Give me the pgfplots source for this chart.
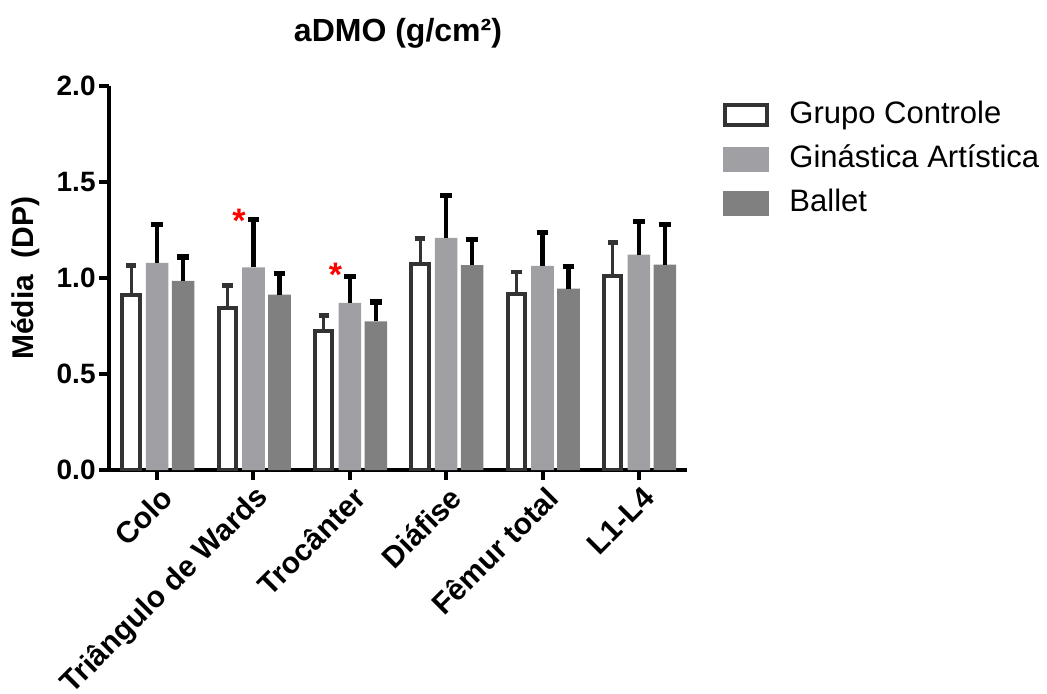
\documentclass[border=0pt]{standalone}
\usepackage{fontspec}
\setmainfont{Liberation Sans}
\usepackage{pgfplots}
\pgfplotsset{compat=1.18}
\definecolor{lightg}{RGB}{160,160,164}
\definecolor{darkg}{RGB}{128,128,128}
\definecolor{strk}{RGB}{51,51,51}

\begin{document}
\begin{tikzpicture}
\useasboundingbox (-54.5pt,-111.5pt) rectangle (469pt,235pt);
\begin{axis}[
  scale only axis, width=289pt, height=192pt,
  xmin=-0.5, xmax=5.5, ymin=0, ymax=2,
  axis x line=bottom, axis y line=left,
  axis line style={-, line width=2pt, black},
  tick align=outside, major tick length=5pt,
  tick style={line width=2pt, black},
  xtick={0,1,2,3,4,5},
  xticklabels={Colo, Triângulo de Wards, Trocânter, Diáfise, Fêmur total, L1-L4},
  ytick={0,0.5,1,1.5,2},
  /pgf/number format/fixed, /pgf/number format/fixed zerofill,
  /pgf/number format/precision=1, /pgf/number format/assume math mode=true,
  yticklabel style={font=\bfseries\fontsize{14}{14}\selectfont, inner xsep=1.5pt},
  xticklabel style={font=\bfseries\fontsize{15}{15}\selectfont, rotate=45, anchor=east,
    yshift=-8pt, xshift=2.5pt},
  ylabel={Média\ \ (DP)},
  ylabel style={at={(axis description cs:-0.145,0.5)}, anchor=center, rotate=0,
    font=\bfseries\fontsize{15}{15}\selectfont},
  title={aDMO (g/cm²)},
  title style={at={(axis description cs:0.5,1.105)}, anchor=center, yshift=0pt,
    font=\bfseries\fontsize{16}{16}\selectfont},
  ybar,
  error bars/y dir=plus, error bars/y explicit,
  legend style={at={(axis description cs:1.052,0.972)}, anchor=north west,
    draw=none, fill=none, font=\fontsize{15.5}{15.5}\selectfont,
    row sep=8pt, nodes={inner sep=0pt, text height=11pt, text depth=3pt},
    /tikz/every odd column/.append style={column sep=10pt}},
  legend cell align=left,
]

\addplot[draw=strk, fill=white, line width=2pt, bar width=0.18, bar shift=-0.27,
  error bars/error mark=|,
  error bars/error bar style={draw=strk, line width=1.6pt},
  error bars/error mark options={draw=strk, line width=2.4pt, mark size=2.6pt},
  legend image code/.code={\draw[draw=strk, fill=white, line width=2pt] (0pt,-5pt) rectangle (21pt,5pt);}]
  coordinates {
    (0,0.912) +- (0,0.154)
    (1,0.846) +- (0,0.116)
    (2,0.725) +- (0,0.080)
    (3,1.072) +- (0,0.134)
    (4,0.916) +- (0,0.115)
    (5,1.011) +- (0,0.173)};
\addlegendentry{Grupo Controle}

\addplot[draw=none, fill=lightg, bar width=0.235, bar shift=0,
  error bars/error mark=|,
  error bars/error bar style={draw=black, line width=2.2pt},
  error bars/error mark options={draw=black, line width=2.6pt, mark size=2.9pt},
  legend image code/.code={\fill[lightg] (-1pt,-6.25pt) rectangle (22pt,6.25pt);}]
  coordinates {
    (0,1.079) +- (0,0.200)
    (1,1.055) +- (0,0.250)
    (2,0.870) +- (0,0.137)
    (3,1.209) +- (0,0.221)
    (4,1.063) +- (0,0.176)
    (5,1.122) +- (0,0.172)};
\addlegendentry{Ginástica Artística}

\addplot[draw=none, fill=darkg, bar width=0.235, bar shift=0.27,
  error bars/error mark=|,
  error bars/error bar style={draw=black, line width=2.2pt},
  error bars/error mark options={draw=black, line width=2.6pt, mark size=2.9pt},
  legend image code/.code={\fill[darkg] (-1pt,-6.25pt) rectangle (22pt,6.25pt);}]
  coordinates {
    (0,0.985) +- (0,0.124)
    (1,0.914) +- (0,0.108)
    (2,0.774) +- (0,0.101)
    (3,1.067) +- (0,0.134)
    (4,0.945) +- (0,0.115)
    (5,1.070) +- (0,0.207)};
\addlegendentry{Ballet}

\node[text=red, font=\bfseries\fontsize{17}{17}\selectfont, inner sep=0pt, yshift=-2.2pt]
  at (axis cs:0.85,1.323) {*};
\node[text=red, font=\bfseries\fontsize{17}{17}\selectfont, inner sep=0pt, yshift=-2.2pt]
  at (axis cs:1.85,1.039) {*};
\end{axis}
\end{tikzpicture}
\end{document}
